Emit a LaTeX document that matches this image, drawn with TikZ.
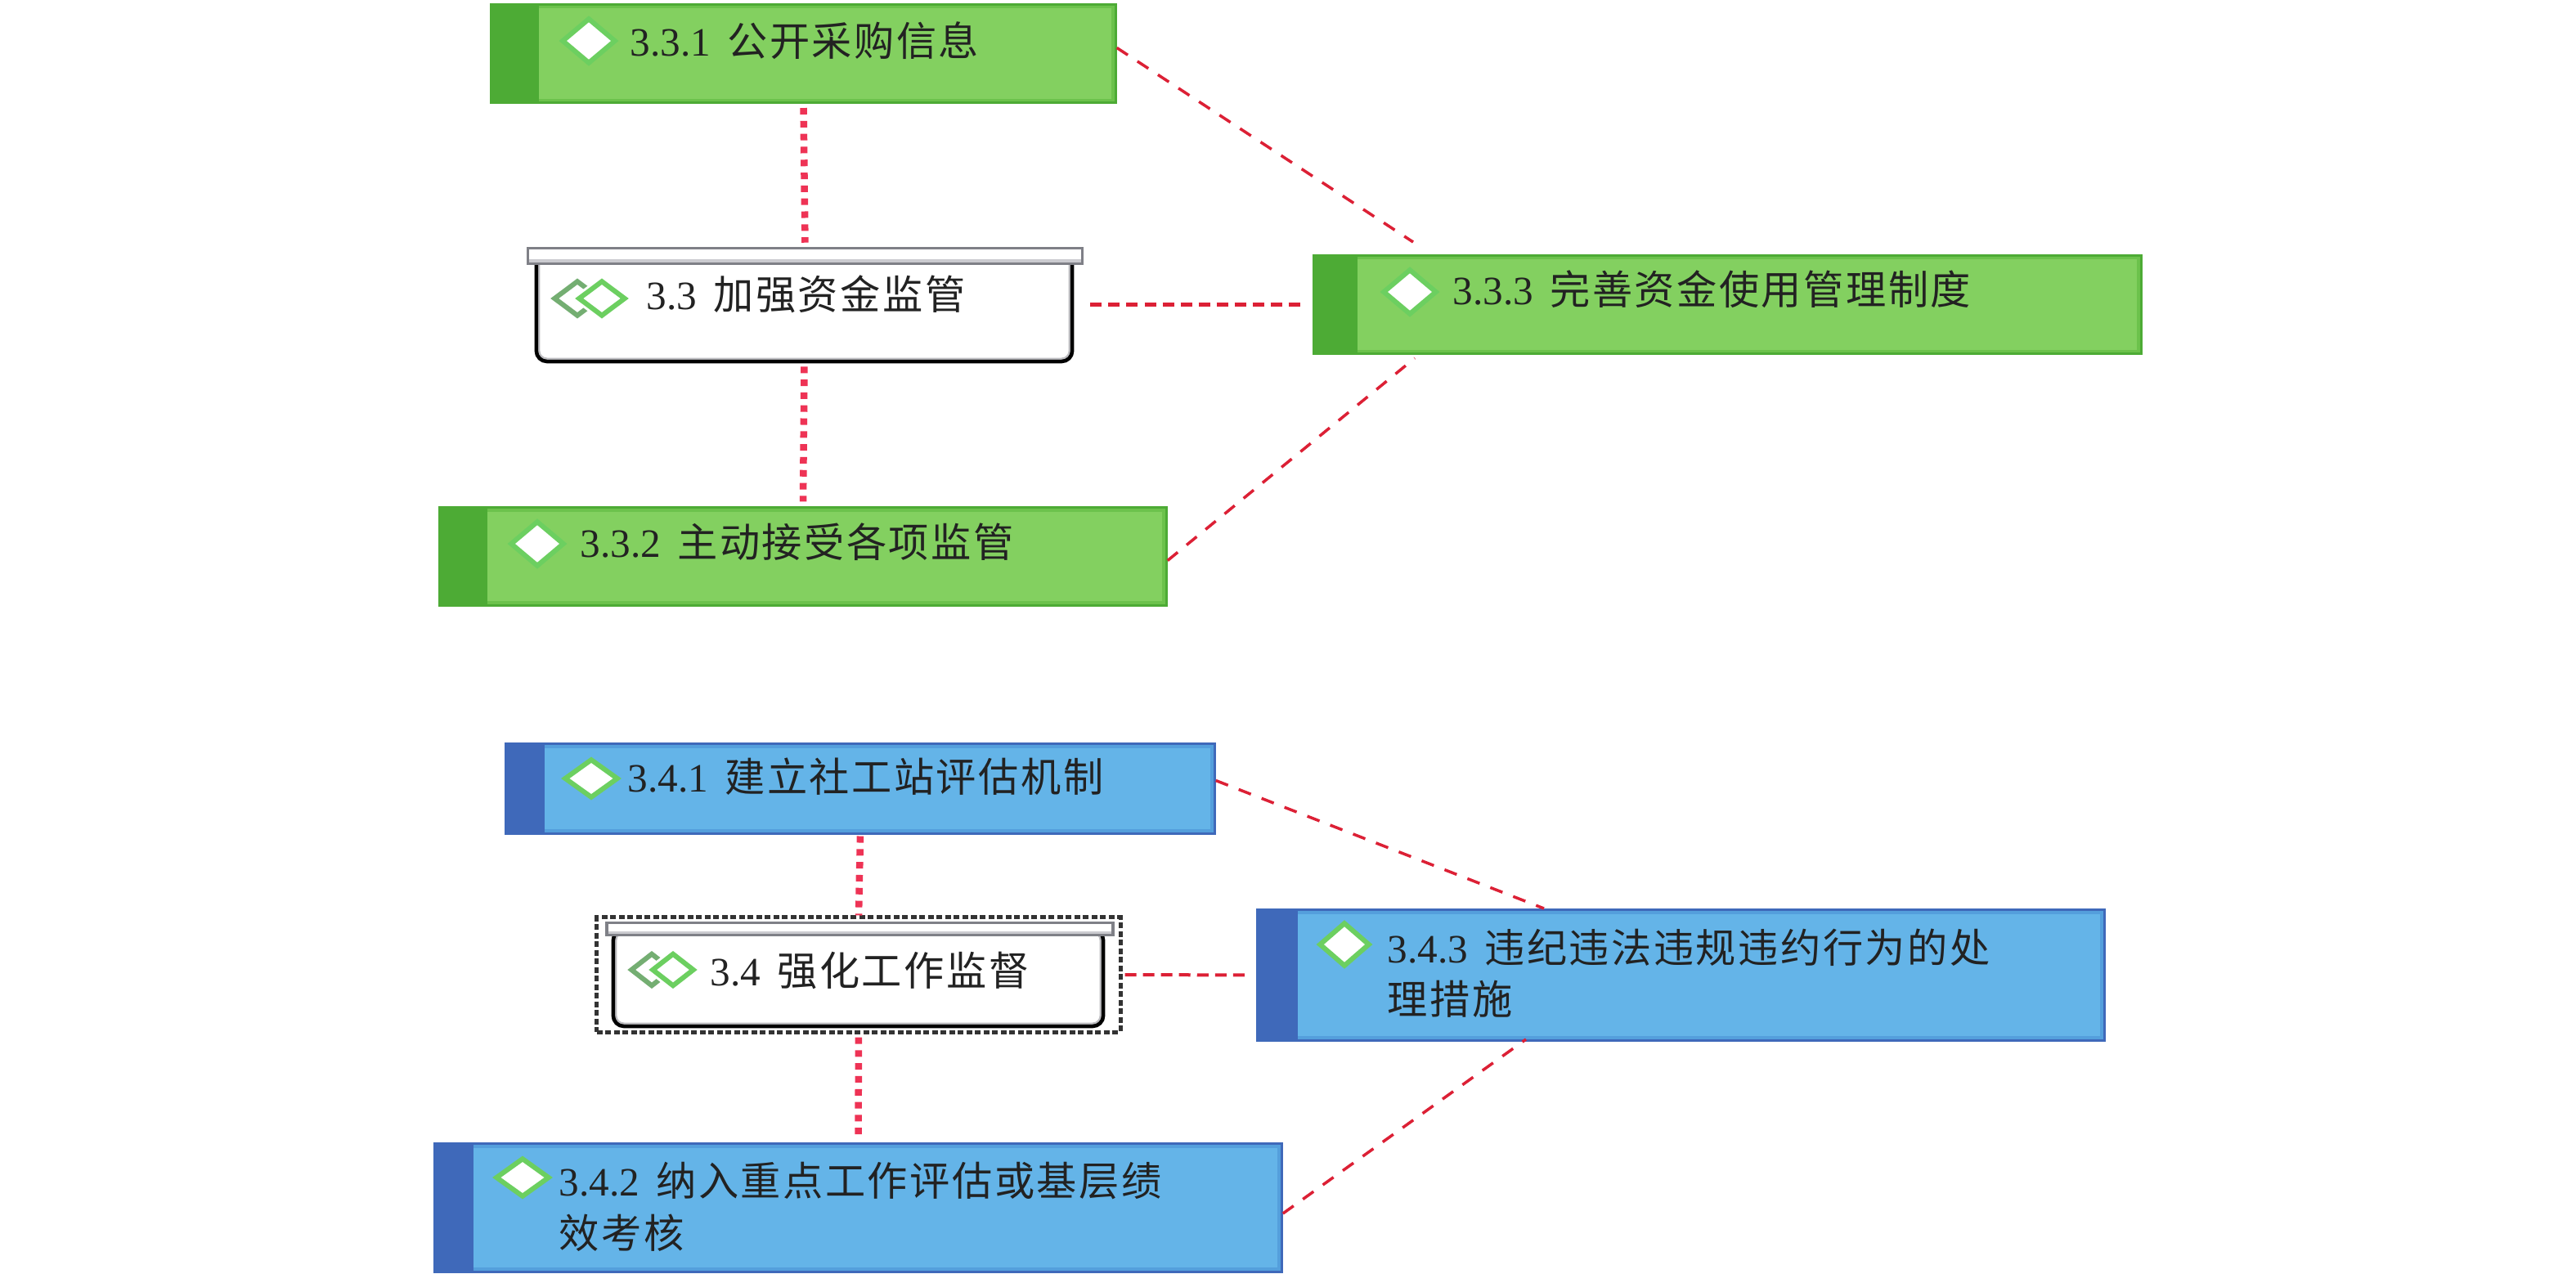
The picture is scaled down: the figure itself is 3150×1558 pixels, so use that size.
\documentclass[tikz,border=0pt]{standalone}
\usepackage{fontspec}
\setmainfont{Liberation Serif}
\newfontfamily\cjk[LetterSpace=5]{Noto Sans CJK SC}
\newcommand{\itemcn}[1]{\hspace{.08cm}{\cjk #1}}
\usetikzlibrary{shapes.geometric}
\definecolor{leafgreen}{HTML}{83D060}
\definecolor{stripgreen}{HTML}{4DAB35}
\definecolor{edgegreen}{HTML}{6CC24C}
\definecolor{leafblue}{HTML}{64B4E8}
\definecolor{stripblue}{HTML}{3F69BA}
\definecolor{edgeblue}{HTML}{549FDC}
\definecolor{markgreen}{HTML}{6CCF60}
\definecolor{backgreen}{HTML}{74AE72}
\definecolor{barline}{HTML}{7F8087}
\definecolor{barshade}{HTML}{CBCBD0}
\definecolor{fatred}{HTML}{EE3355}
\definecolor{thinred}{HTML}{DC2035}
\definecolor{inktext}{HTML}{222222}
\tikzset{
    greenbox/.style={draw=stripgreen, fill=leafgreen, line width=.03cm, inner sep=0pt,
        path picture={
            \draw[edgegreen, line width=.1cm] (path picture bounding box.north west) rectangle (path picture bounding box.south east);
            \fill[stripgreen] (path picture bounding box.north west) rectangle ([xshift=#1]path picture bounding box.south west);
        }},
    bluebox/.style={draw=stripblue, fill=leafblue, line width=.03cm, inner sep=0pt,
        path picture={
            \draw[edgeblue, line width=.1cm] (path picture bounding box.north west) rectangle (path picture bounding box.south east);
            \fill[stripblue] (path picture bounding box.north west) rectangle ([xshift=#1]path picture bounding box.south west);
        }},
    panelbox/.style={draw=black, fill=white, line width=.045cm, rounded corners=.13cm, inner sep=0pt,
        path picture={
            \draw[barshade!80!gray, line width=.09cm, rounded corners=.13cm] (path picture bounding box.north west) rectangle (path picture bounding box.south east);
        }},
    barbox/.style={draw=barline, fill=white, line width=.035cm, inner sep=0pt,
        path picture={
            \fill[barshade] ([yshift=.05cm]path picture bounding box.south west) rectangle (path picture bounding box.south east);
        }},
    framebox/.style={draw=black!80, line width=.05cm, dash pattern=on .07cm off .035cm, inner sep=0pt,
        minimum width=6.4cm, minimum height=1.4cm},
    markdiamond/.style={diamond, draw=markgreen, fill=white, line width=.06cm, inner sep=0pt},
    iconback/.style={diamond, draw=backgreen, line width=.06cm, inner sep=0pt},
    iconfront/.style={diamond, draw=markgreen, fill=white, line width=.06cm, inner sep=0pt,
        preaction={draw=white, line width=.12cm}},
    itemtext/.style={font=\fontsize{14}{18}\selectfont, text=inktext, align=left, anchor=west, inner sep=0pt},
    fatlink/.style={fatred, line width=.085cm, dash pattern=on .08cm off .078cm},
    sidelink/.style={thinred, line width=.055cm, dash pattern=on .14cm off .08cm},
    thinlink/.style={thinred, line width=.035cm, dash pattern=on .16cm off .14cm}
}
\begin{document}
\begin{tikzpicture}[x=.01cm, y=-.01cm]
    \useasboundingbox (0,0) rectangle (3150,1558);

    \node[greenbox=.58cm, minimum width=7.63cm, minimum height=1.2cm] (b331) at (982.5,65.5) {};
    \node[greenbox=.58cm, minimum width=8.88cm, minimum height=1.19cm] (b332) at (982,680.5) {};
    \node[greenbox=.53cm, minimum width=10.11cm, minimum height=1.2cm] (b333) at (2112.5,372.5) {};
    \node[panelbox, minimum width=6.55cm, minimum height=1.31cm] (b33) at (983.5,376.5) {};
    \node[barbox, minimum width=6.78cm, minimum height=.19cm] (h33) at (984.5,313) {};

    \node[markdiamond, minimum width=.66cm, minimum height=.56cm] (d331) at (720,50) {};
    \node[markdiamond, minimum width=.66cm, minimum height=.56cm] (d332) at (657,665) {};
    \node[markdiamond, minimum width=.66cm, minimum height=.56cm] (d333) at (1724,357) {};
    \node[iconback, minimum width=.58cm, minimum height=.44cm] (ia33) at (706,365) {};
    \node[iconfront, minimum width=.58cm, minimum height=.44cm] (ib33) at (736,365) {};

    \node[itemtext] (t331) at (770,50) {3.3.1 \itemcn{公开采购信息}};
    \node[itemtext] (t332) at (709,663) {3.3.2 \itemcn{主动接受各项监管}};
    \node[itemtext] (t333) at (1776,354) {3.3.3 \itemcn{完善资金使用管理制度}};
    \node[itemtext] (t33) at (790,360) {3.3 \itemcn{加强资金监管}};

    \node[bluebox=.47cm, minimum width=8.66cm, minimum height=1.09cm] (b341) at (1052,964.5) {};
    \node[bluebox=.47cm, minimum width=10.35cm, minimum height=1.56cm] (b342) at (1049.5,1477) {};
    \node[bluebox=.49cm, minimum width=10.35cm, minimum height=1.59cm] (b343) at (2055.5,1192.5) {};
    \node[framebox] (f34) at (1050,1192) {};
    \node[panelbox, minimum width=5.99cm, minimum height=1.18cm] (b34) at (1049.5,1196) {};
    \node[barbox, minimum width=6.19cm, minimum height=.15cm] (h34) at (1051.5,1136) {};

    \node[markdiamond, minimum width=.66cm, minimum height=.48cm] (d341) at (723,952) {};
    \node[markdiamond, minimum width=.66cm, minimum height=.48cm] (d342) at (639,1440) {};
    \node[markdiamond, minimum width=.62cm, minimum height=.54cm] (d343) at (1644,1155) {};
    \node[iconback, minimum width=.52cm, minimum height=.41cm] (ia34) at (797,1186) {};
    \node[iconfront, minimum width=.52cm, minimum height=.41cm] (ib34) at (823,1186) {};

    \node[itemtext] (t341) at (767,950) {3.4.1 \itemcn{建立社工站评估机制}};
    \node[itemtext] (t342) at (683,1476) {3.4.2 \itemcn{纳入重点工作评估或基层绩}\\{\cjk 效考核}};
    \node[itemtext] (t343) at (1696,1190) {3.4.3 \itemcn{违纪违法违规违约行为的处}\\{\cjk 理措施}};
    \node[itemtext] (t34) at (868,1187) {3.4 \itemcn{强化工作监督}};

    \coordinate (n333) at (1728,296);
    \coordinate (s333) at (1730,438);
    \coordinate (n343) at (1888,1111);
    \coordinate (s343) at (1866,1271);

    \draw[fatlink, shorten <=.05cm, shorten >=.05cm] (b331.south) -- (h33.north);
    \draw[fatlink, shorten <=.04cm, shorten >=.06cm] (b33.south) -- (b332.north);
    \draw[sidelink, shorten <=.2cm, shorten >=.12cm] (b33.east |- b333.west) -- (b333.west);
    \draw[thinlink] ([yshift=.07cm]b331.east) -- (n333);
    \draw[thinlink] ([yshift=-.05cm]b332.east) -- (s333);

    \draw[fatlink, shorten <=.02cm] (b341.south) -- (f34.north);
    \draw[fatlink, shorten <=.04cm, shorten >=.07cm] (f34.south) -- (b342.north);
    \draw[sidelink, line width=.04cm, shorten <=.03cm, shorten >=.11cm] (f34.east) -- (b343.west);
    \draw[thinlink] ([yshift=.1cm]b341.east) -- (n343);
    \draw[thinlink] ([yshift=-.07cm]b342.east) -- (s343);
\end{tikzpicture}
\end{document}
